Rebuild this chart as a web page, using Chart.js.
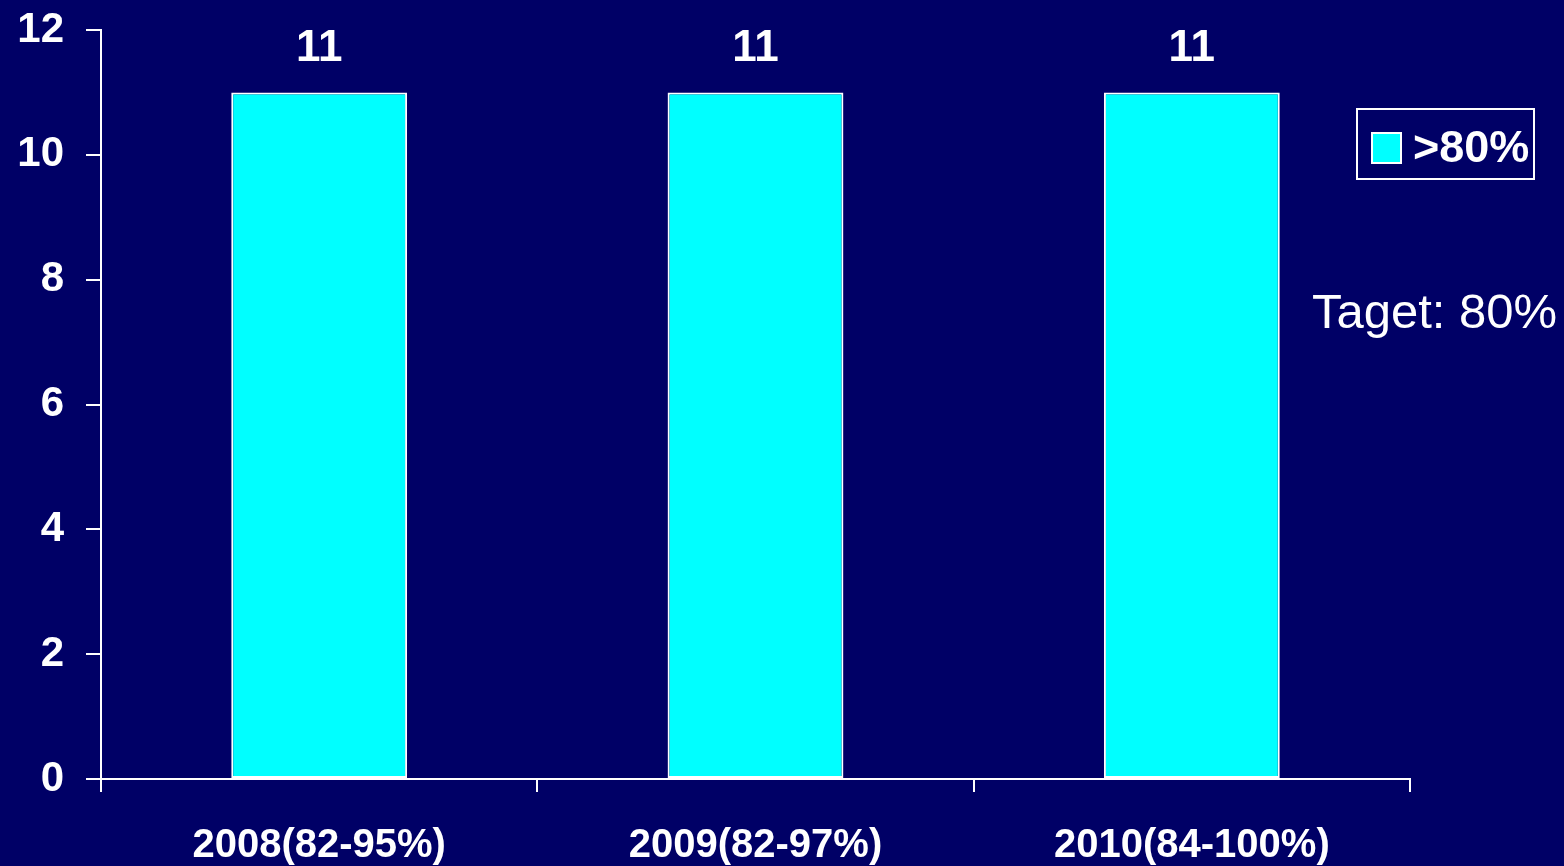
<!DOCTYPE html>
<html>
<head>
<meta charset="utf-8">
<script src="https://cdn.jsdelivr.net/npm/chart.js@4.4.1/dist/chart.umd.min.js"></script>
<style>
  html, body { margin: 0; padding: 0; background: #000066; }
  #wrap { width: 1564px; height: 866px; position: relative; }
</style>
</head>
<body>
<div id="wrap"><canvas id="chart"></canvas></div>
<script>
const categories = ['2008(82-95%)', '2009(82-97%)', '2010(84-100%)'];
const seriesName = '>80%';
const seriesValues = [11, 11, 11];
const targetNote = 'Taget: 80%';

const FONT = '"Liberation Sans", Arial, sans-serif';

// value printed above each bar
const barValues = {
  id: 'barValues',
  afterDatasetsDraw(chart) {
    const ctx = chart.ctx;
    const meta = chart.getDatasetMeta(0);
    ctx.save();
    ctx.fillStyle = '#ffffff';
    ctx.font = 'bold 44px ' + FONT;
    ctx.textAlign = 'center';
    ctx.textBaseline = 'alphabetic';
    meta.data.forEach((bar, i) => {
      ctx.fillText(String(chart.data.datasets[0].data[i]), bar.x, bar.y - 31);
    });
    ctx.restore();
  }
};

// boxed legend and target note on the right
const sideNotes = {
  id: 'sideNotes',
  afterDraw(chart) {
    const ctx = chart.ctx;
    const ds = chart.data.datasets[0];
    ctx.save();
    ctx.strokeStyle = '#ffffff';
    ctx.lineWidth = 2;
    ctx.strokeRect(1357, 109, 177, 70);
    ctx.fillStyle = ds.backgroundColor;
    ctx.fillRect(1372, 133, 29, 30);
    ctx.strokeRect(1372, 133, 29, 30);
    ctx.fillStyle = '#ffffff';
    ctx.font = 'bold 45px ' + FONT;
    ctx.textAlign = 'left';
    ctx.textBaseline = 'middle';
    ctx.fillText(ds.label, 1413, 150);
    ctx.font = '49px ' + FONT;
    ctx.fillText(targetNote, 1312, 314);
    ctx.restore();
  }
};

new Chart(document.getElementById('chart'), {
  type: 'bar',
  data: {
    labels: categories,
    datasets: [{
      label: seriesName,
      data: seriesValues,
      backgroundColor: '#00ffff',
      borderColor: '#ffffff',
      borderWidth: 2,
      borderSkipped: false,
      categoryPercentage: 1,
      barPercentage: 0.403
    }]
  },
  options: {
    responsive: true,
    maintainAspectRatio: false,
    animation: false,
    layout: { padding: { top: 30, right: 154, left: 16, bottom: -34 } },
    plugins: {
      legend: { display: false },
      tooltip: { enabled: false }
    },
    scales: {
      x: {
        offset: true,
        grid: {
          offset: true,
          drawOnChartArea: false,
          drawTicks: true,
          tickLength: 13,
          color: '#ffffff',
          lineWidth: 2
        },
        border: { color: '#ffffff', width: 2 },
        ticks: {
          color: '#ffffff',
          padding: 30,
          font: { family: FONT, size: 40, weight: 'bold' }
        }
      },
      y: {
        min: 0,
        max: 12,
        afterFit(scale) {
          scale.width = 85;
          scale.paddingTop = 0;
        },
        ticks: {
          stepSize: 2,
          color: '#ffffff',
          padding: 22,
          font: { family: FONT, size: 42, weight: 'bold' }
        },
        grid: {
          drawOnChartArea: false,
          drawTicks: true,
          tickLength: 15,
          color: '#ffffff',
          lineWidth: 2
        },
        border: { color: '#ffffff', width: 2 }
      }
    }
  },
  plugins: [barValues, sideNotes]
});
</script>
</body>
</html>
